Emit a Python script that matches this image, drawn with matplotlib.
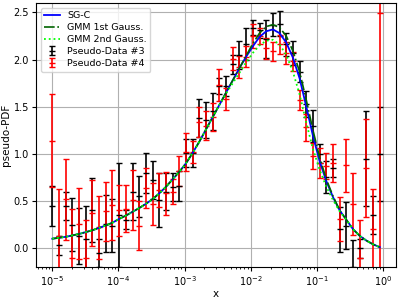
import numpy as np
import matplotlib
matplotlib.use("Agg")
import matplotlib.pyplot as plt

# x grid (log-spaced, 50 points from 1e-5 to ~0.9)
x = np.logspace(-5, np.log10(0.9), 50)

sg_c = [0.10, 0.11, 0.12, 0.135, 0.15, 0.17, 0.19, 0.215, 0.24, 0.27,
        0.31, 0.345, 0.385, 0.425, 0.47, 0.52, 0.58, 0.65, 0.73, 0.81,
        0.90, 1.01, 1.13, 1.26, 1.39, 1.52, 1.65, 1.78, 1.91, 2.03,
        2.14, 2.24, 2.30, 2.32, 2.28, 2.18, 2.02, 1.80, 1.50, 1.19,
        0.92, 0.71, 0.54, 0.40, 0.30, 0.20, 0.13, 0.08, 0.04, 0.01]
gmm1 = [0.10, 0.11, 0.12, 0.135, 0.15, 0.17, 0.19, 0.215, 0.24, 0.27,
        0.31, 0.345, 0.385, 0.425, 0.47, 0.52, 0.58, 0.65, 0.73, 0.81,
        0.90, 1.01, 1.13, 1.26, 1.39, 1.52, 1.65, 1.78, 1.91, 2.04,
        2.17, 2.28, 2.35, 2.37, 2.34, 2.25, 2.09, 1.87, 1.57, 1.25,
        0.96, 0.73, 0.55, 0.40, 0.30, 0.20, 0.13, 0.08, 0.04, 0.01]
gmm2 = [0.10, 0.11, 0.12, 0.135, 0.15, 0.17, 0.19, 0.215, 0.24, 0.27,
        0.31, 0.345, 0.385, 0.425, 0.47, 0.52, 0.58, 0.65, 0.73, 0.81,
        0.90, 1.01, 1.13, 1.26, 1.39, 1.52, 1.64, 1.75, 1.86, 1.97,
        2.07, 2.15, 2.20, 2.21, 2.16, 2.05, 1.87, 1.63, 1.33, 1.05,
        0.83, 0.65, 0.51, 0.39, 0.30, 0.20, 0.13, 0.08, 0.04, 0.01]

data3 = [0.45, 0.03, 0.45, 0.25, 0.13, 0.10, 0.40, -0.05, 0.26, 0.24,
         0.35, 0.30, 0.60, 0.55, 0.80, 0.72, 0.51, 0.60, 0.65, 0.66,
         1.01, 1.01, 1.38, 1.36, 1.45, 1.72, 1.72, 1.95, 2.05, 2.17,
         2.34, 2.31, 2.22, 2.37, 2.38, 2.16, 2.07, 1.87, 1.53, 1.30,
         1.00, 0.75, 0.85, 0.20, 0.24, -0.20, 0.00, 0.95, 0.35, 1.00]
err3 = [0.21, 0.10, 0.15, 0.28, 0.30, 0.35, 0.34, 0.15, 0.30, 0.28,
        0.55, 0.10, 0.30, 0.22, 0.21, 0.20, 0.29, 0.20, 0.15, 0.16,
        0.15, 0.15, 0.20, 0.19, 0.20, 0.08, 0.11, 0.10, 0.15, 0.17,
        0.08, 0.08, 0.20, 0.12, 0.13, 0.12, 0.13, 0.11, 0.14, 0.17,
        0.10, 0.17, 0.10, 0.24, 0.25, 0.29, 0.10, 0.50, 0.20, 0.50]
data4 = [1.14, 0.13, 0.52, -0.10, 0.26, -0.10, 0.37, 0.22, 0.39, 0.46,
         0.40, 0.42, 0.51, 0.24, 0.64, 0.47, 0.62, 0.58, 0.60, 0.82,
         1.02, 1.02, 1.34, 1.30, 1.39, 1.73, 1.58, 2.01, 1.92, 2.03,
         2.25, 2.25, 2.12, 2.09, 2.16, 2.07, 1.98, 1.57, 1.28, 0.98,
         0.90, 0.87, 0.90, 0.31, 0.88, 0.47, -0.10, 0.85, 0.20, 2.49]
err4 = [0.49, 0.50, 0.43, 0.52, 0.38, 0.40, 0.35, 0.33, 0.31, 0.37,
        0.27, 0.25, 0.32, 0.26, 0.21, 0.22, 0.18, 0.23, 0.13, 0.16,
        0.20, 0.12, 0.16, 0.15, 0.15, 0.17, 0.12, 0.12, 0.12, 0.11,
        0.13, 0.09, 0.11, 0.10, 0.10, 0.12, 0.10, 0.11, 0.14, 0.14,
        0.16, 0.14, 0.20, 0.23, 0.28, 0.33, 0.40, 0.52, 0.43, 2.90]

fig = plt.figure(figsize=(3.99, 2.99), dpi=100)
ax = fig.add_axes([0.09, 0.107, 0.903, 0.883])

ax.errorbar(x, data3, yerr=err3, fmt='_', color='k', ecolor='k', ms=4, mew=1.0,
            elinewidth=1.2, capsize=2, capthick=1.0, label='Pseudo-Data #3', zorder=2)
ax.errorbar(x, data4, yerr=err4, fmt='_', color='r', ecolor='r', ms=4, mew=1.0,
            elinewidth=1.2, capsize=2, capthick=1.0, label='Pseudo-Data #4', zorder=2)
ax.plot(x, sg_c, '-', color='b', lw=1.3, label='SG-C', zorder=3)
ax.plot(x, gmm1, '-.', color='darkgreen', lw=1.2, label='GMM 1st Gauss.', zorder=3)
ax.plot(x, gmm2, ':', color='lime', lw=1.3, label='GMM 2nd Gauss.', zorder=3)

ax.set_xscale('log')
ax.set_ylim(-0.2, 2.6)
ax.set_xlabel('x', fontsize=7.5, labelpad=1)
ax.set_ylabel('pseudo-PDF', fontsize=7.5, labelpad=2)
ax.tick_params(labelsize=7, length=3, pad=2)
ax.tick_params(which='minor', length=1.5)
ax.grid(True, which='major', color='#b0b0b0', lw=0.8)
ax.set_axisbelow(True)
ax.legend(loc='upper left', fontsize=6.8, framealpha=0.8, handlelength=1.6,
          borderpad=0.4, labelspacing=0.3)

fig.savefig('out.png', dpi=100)
